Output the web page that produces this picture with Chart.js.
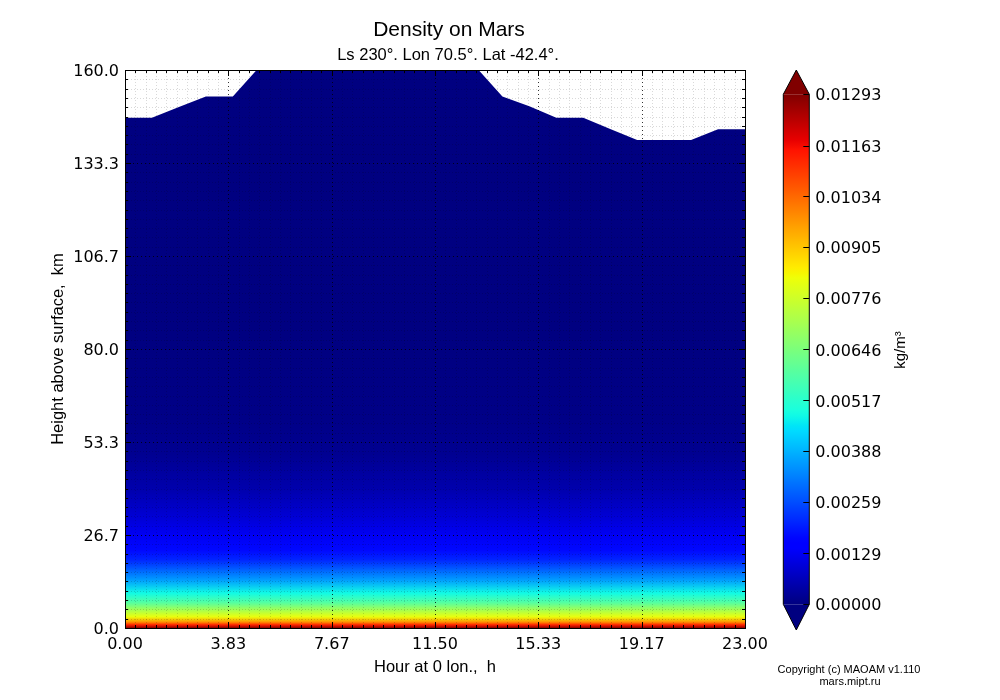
<!DOCTYPE html>
<html>
<head>
<meta charset="utf-8">
<title>Density on Mars</title>
<script src="https://cdn.jsdelivr.net/npm/chart.js@4.4.1/dist/chart.umd.min.js"></script>
<style>
  body { margin: 0; background: #fff; }
  #wrap { position: relative; width: 1000px; height: 700px; }
  #main { position: absolute; left: 0; top: 0; }
  #cbar { position: absolute; left: 760px; top: 0; }
</style>
</head>
<body>
<div id="wrap">
  <canvas id="main" width="1000" height="700"></canvas>
  <canvas id="cbar" width="240" height="700"></canvas>
</div>
<script>
// --- 1. DATA ---
const hours = [0, 1, 2, 3, 4, 5, 6, 7, 8, 9, 10, 11, 12, 13, 14, 15, 16, 17, 18, 19, 20, 21, 22, 23];
// upper edge of the data for each hour, km
const topHeight = [146.3, 146.3, 149.4, 152.4, 152.4, 161, 161, 161, 161, 161, 161, 161, 161, 161,
                   152.4, 149.6, 146.3, 146.3, 143.1, 139.9, 139.9, 139.9, 143.0, 143.0];
// density profile (same at every hour), km -> kg/m3
const profileHeight = [0, 0.9, 1.7, 3.2, 5.2, 7.2, 10, 13.8, 19.5, 22.4, 26.7, 31, 40, 50, 60, 80, 160];
const profileDensity = [0.0128, 0.0113, 0.0098, 0.0082, 0.0071, 0.0059, 0.0048, 0.0036, 0.0021,
                        0.0017, 0.0013, 0.0010, 0.0005, 0.0002, 0.00008, 0.00002, 0];

const xTicks = [0, 3.83, 7.67, 11.5, 15.33, 19.17, 23];
const yTicks = [0, 26.7, 53.3, 80, 106.7, 133.3, 160];
const cbarTicks = [0, 0.00129, 0.00259, 0.00388, 0.00517, 0.00646, 0.00776, 0.00905, 0.01034, 0.01163, 0.01293];
const cbarMax = 0.01293;

// --- 2. HELPERS ---
// matplotlib "jet" colormap
function jet(t) {
  t = Math.min(1, Math.max(0, t));
  const seg = pts => {
    for (let i = 1; i < pts.length; i++) {
      if (t <= pts[i][0]) {
        const [x0, y0] = pts[i - 1], [x1, y1] = pts[i];
        return y0 + (y1 - y0) * (t - x0) / (x1 - x0);
      }
    }
    return pts[pts.length - 1][1];
  };
  const r = seg([[0, 0], [0.35, 0], [0.66, 1], [0.89, 1], [1, 0.5]]);
  const g = seg([[0, 0], [0.125, 0], [0.375, 1], [0.64, 1], [0.91, 0], [1, 0]]);
  const b = seg([[0, 0.5], [0.11, 1], [0.34, 1], [0.65, 0], [1, 0]]);
  return `rgb(${Math.round(r * 255)},${Math.round(g * 255)},${Math.round(b * 255)})`;
}

// minor ticks: ten steps between each pair of major ticks
function minorOf(major) {
  const out = [];
  for (let i = 0; i < major.length - 1; i++) {
    const step = (major[i + 1] - major[i]) / 10;
    for (let k = 1; k < 10; k++) out.push(major[i] + step * k);
  }
  return out;
}

function line(ctx, x0, y0, x1, y1) {
  ctx.beginPath();
  ctx.moveTo(x0, y0);
  ctx.lineTo(x1, y1);
  ctx.stroke();
}

const tickFont = { family: 'DejaVu Sans', size: 16 };
const labelFont = 'Liberation Sans, Arial, sans-serif';

// --- 3. PLUGINS ---
// grid on top of the colours, frame, inward ticks, titles
const mplFrame = {
  id: 'mplFrame',
  afterDatasetsDraw(chart) {
    const { ctx, chartArea: a, scales: { x, y } } = chart;
    const px = v => Math.round(x.getPixelForValue(v)) + 0.5;
    const py = v => Math.round(y.getPixelForValue(v)) + 0.5;
    ctx.save();
    ctx.lineWidth = 1;

    ctx.setLineDash([1, 2]);
    ctx.strokeStyle = 'rgba(0,0,0,0.15)';
    minorOf(xTicks).forEach(v => line(ctx, px(v), a.top, px(v), a.bottom));
    minorOf(yTicks).forEach(v => line(ctx, a.left, py(v), a.right, py(v)));
    ctx.setLineDash([1, 3]);
    ctx.strokeStyle = 'rgba(0,0,0,0.8)';
    xTicks.forEach(v => line(ctx, px(v), a.top, px(v), a.bottom));
    yTicks.forEach(v => line(ctx, a.left, py(v), a.right, py(v)));

    ctx.setLineDash([]);
    ctx.strokeStyle = '#000';
    minorOf(xTicks).forEach(v => { line(ctx, px(v), a.bottom, px(v), a.bottom - 3); line(ctx, px(v), a.top, px(v), a.top + 3); });
    minorOf(yTicks).forEach(v => { line(ctx, a.left, py(v), a.left + 3, py(v)); line(ctx, a.right, py(v), a.right - 3, py(v)); });
    xTicks.forEach(v => { line(ctx, px(v), a.bottom, px(v), a.bottom - 6); line(ctx, px(v), a.top, px(v), a.top + 6); });
    yTicks.forEach(v => { line(ctx, a.left, py(v), a.left + 6, py(v)); line(ctx, a.right, py(v), a.right - 6, py(v)); });
    ctx.strokeRect(Math.round(a.left) + 0.5, Math.round(a.top) + 0.5, Math.round(a.right - a.left), Math.round(a.bottom - a.top));

    ctx.fillStyle = '#000';
    ctx.textAlign = 'center';
    ctx.textBaseline = 'middle';
    ctx.font = `21px ${labelFont}`;
    ctx.fillText('Density on Mars', 449, 30);
    ctx.font = `16.5px ${labelFont}`;
    ctx.fillText('Ls 230°. Lon 70.5°. Lat -42.4°.', 448, 55);
    ctx.font = `11px ${labelFont}`;
    ctx.fillText('Copyright (c) MAOAM v1.110', 849, 670);
    ctx.fillText('mars.mipt.ru', 850, 682);
    ctx.restore();
  }
};

const cbarFrame = {
  id: 'cbarFrame',
  afterDatasetsDraw(chart) {
    const { ctx, chartArea: a, scales: { y } } = chart;
    const l = a.left, r = a.right, t = a.top, b = a.bottom, c = (l + r) / 2;
    ctx.save();
    ctx.fillStyle = jet(1);
    ctx.beginPath(); ctx.moveTo(l, t); ctx.lineTo(c, t - 24.3); ctx.lineTo(r, t); ctx.closePath(); ctx.fill();
    ctx.fillStyle = jet(0);
    ctx.beginPath(); ctx.moveTo(l, b); ctx.lineTo(c, b + 25.7); ctx.lineTo(r, b); ctx.closePath(); ctx.fill();

    ctx.strokeStyle = '#000';
    ctx.lineWidth = 1;
    ctx.beginPath();
    ctx.moveTo(l, b); ctx.lineTo(l, t); ctx.lineTo(c, t - 24.3); ctx.lineTo(r, t);
    ctx.lineTo(r, b); ctx.lineTo(c, b + 25.7); ctx.closePath();
    ctx.stroke();
    cbarTicks.forEach(v => {
      const p = Math.round(y.getPixelForValue(v)) + 0.5;
      line(ctx, r, p, r - 6, p);
    });

    ctx.fillStyle = '#000';
    ctx.font = `15px ${labelFont}`;
    ctx.textAlign = 'center';
    ctx.textBaseline = 'middle';
    ctx.translate(141, 350);
    ctx.rotate(-Math.PI / 2);
    ctx.fillText('kg/m³', 0, 0);
    ctx.restore();
  }
};

// --- 4. MAIN CHART ---
new Chart(document.getElementById('main'), {
  type: 'line',
  data: {
    datasets: [{
      data: hours.map((h, i) => ({ x: h, y: topHeight[i] })),
      fill: 'origin',
      borderWidth: 0,
      pointRadius: 0,
      tension: 0,
      backgroundColor: ctx => {
        const { chart } = ctx;
        if (!chart.chartArea) return jet(0);
        const ys = chart.scales.y;
        const g = chart.ctx.createLinearGradient(0, ys.getPixelForValue(0), 0, ys.getPixelForValue(160));
        profileHeight.forEach((h, i) => g.addColorStop(h / 160, jet(profileDensity[i] / cbarMax)));
        return g;
      }
    }]
  },
  options: {
    responsive: false,
    animation: false,
    devicePixelRatio: 1,
    layout: { padding: { left: 0, top: 70, right: 255, bottom: 23 } },
    plugins: { legend: { display: false }, tooltip: { enabled: false } },
    scales: {
      x: {
        type: 'linear', min: 0, max: 23,
        afterBuildTicks: s => { s.ticks = xTicks.map(v => ({ value: v })); },
        afterFit: s => { s.height = 49; },
        ticks: { callback: v => v.toFixed(2), font: tickFont, color: '#000', padding: 7, maxRotation: 0, autoSkip: false },
        grid: { display: false, drawTicks: false },
        border: { display: false },
        title: { display: true, text: 'Hour at 0 lon.,  h', color: '#000',
                 font: { family: labelFont, size: 16.5 }, padding: { top: 0, bottom: 0 } }
      },
      y: {
        type: 'linear', min: 0, max: 160,
        afterBuildTicks: s => { s.ticks = yTicks.map(v => ({ value: v })); },
        afterFit: s => { s.width = 125; },
        ticks: { callback: v => v.toFixed(1), font: tickFont, color: '#000', padding: 6, labelOffset: 2, autoSkip: false },
        grid: { display: false, drawTicks: false },
        border: { display: false },
        title: { display: true, text: 'Height above surface,  km', color: '#000',
                 font: { family: labelFont, size: 16.5 }, padding: { top: 49, bottom: 0 } }
      }
    }
  },
  plugins: [mplFrame]
});

// --- 5. COLOUR BAR ---
new Chart(document.getElementById('cbar'), {
  type: 'bar',
  data: {
    labels: [''],
    datasets: [{
      data: [[0, cbarMax]],
      barPercentage: 1,
      categoryPercentage: 1,
      borderWidth: 0,
      backgroundColor: ctx => {
        const { chart } = ctx;
        if (!chart.chartArea) return jet(0);
        const ys = chart.scales.y;
        const g = chart.ctx.createLinearGradient(0, ys.getPixelForValue(0), 0, ys.getPixelForValue(cbarMax));
        for (let i = 0; i <= 100; i++) g.addColorStop(i / 100, jet(i / 100));
        return g;
      }
    }]
  },
  options: {
    responsive: false,
    animation: false,
    devicePixelRatio: 1,
    layout: { padding: { left: 23.3, top: 94.3, right: 90.7, bottom: 95.7 } },
    plugins: { legend: { display: false }, tooltip: { enabled: false } },
    scales: {
      x: { display: false },
      y: {
        position: 'right', min: 0, max: cbarMax,
        afterBuildTicks: s => { s.ticks = cbarTicks.map(v => ({ value: v })); },
        afterFit: s => { s.width = 100; },
        ticks: { callback: v => v.toFixed(5), font: tickFont, color: '#000', padding: 6, labelOffset: 2, autoSkip: false },
        grid: { display: false, drawTicks: false },
        border: { display: false }
      }
    }
  },
  plugins: [cbarFrame]
});
</script>
</body>
</html>
